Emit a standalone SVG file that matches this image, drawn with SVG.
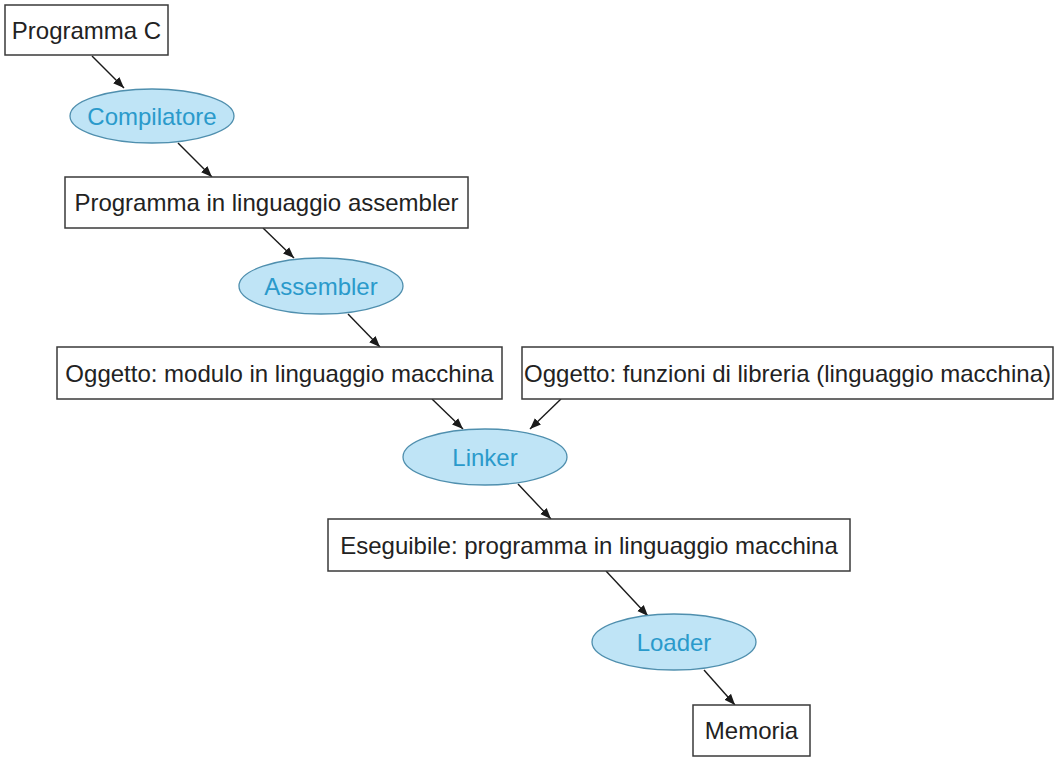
<svg xmlns="http://www.w3.org/2000/svg" width="1058" height="759" viewBox="0 0 1058 759">
<defs>
<marker id="ah" viewBox="0 0 10 10" refX="10" refY="5" markerWidth="11" markerHeight="11" markerUnits="userSpaceOnUse" orient="auto">
<path d="M0,1 L10,5 L0,9 Z" fill="#1a1a1a"/>
</marker>
<style>
.box{fill:#ffffff;stroke:#3a3a3a;stroke-width:1.5}
.ell{fill:#bfe4f6;stroke:#4f8fae;stroke-width:1.3}
.bt{font-family:"Liberation Sans",Arial,sans-serif;font-size:24px;fill:#222222;text-anchor:middle}
.et{font-family:"Liberation Sans",Arial,sans-serif;font-size:24px;fill:#2a9acb;text-anchor:middle}
.c{stroke:#1a1a1a;stroke-width:1.4;fill:none;marker-end:url(#ah)}
</style>
</defs>
<rect width="1058" height="759" fill="#ffffff"/>
<g id="connectors">
<line class="c" x1="92" y1="56" x2="124" y2="88"/>
<line class="c" x1="178" y1="143" x2="212" y2="177"/>
<line class="c" x1="263" y1="228" x2="294" y2="258"/>
<line class="c" x1="348" y1="314" x2="380" y2="347"/>
<line class="c" x1="432" y1="399" x2="463" y2="429"/>
<line class="c" x1="561" y1="399" x2="530" y2="429"/>
<line class="c" x1="518" y1="484" x2="551" y2="519"/>
<line class="c" x1="606" y1="571" x2="648" y2="616"/>
<line class="c" x1="704" y1="670" x2="735" y2="705"/>
</g>
<g id="programma-c">
<rect class="box" x="5" y="5" width="163" height="50"/>
<text class="bt" x="86.5" y="38.5">Programma C</text>
</g>
<g id="compilatore">
<ellipse class="ell" cx="152" cy="116" rx="82" ry="27"/>
<text class="et" x="152" y="124.5">Compilatore</text>
</g>
<g id="programma-assembler">
<rect class="box" x="65" y="177" width="403" height="51"/>
<text class="bt" x="266.5" y="211">Programma in linguaggio assembler</text>
</g>
<g id="assembler">
<ellipse class="ell" cx="321" cy="286" rx="82" ry="28"/>
<text class="et" x="321" y="294.5">Assembler</text>
</g>
<g id="oggetto-modulo">
<rect class="box" x="57" y="347" width="445" height="52"/>
<text class="bt" x="279.5" y="381.5">Oggetto: modulo in linguaggio macchina</text>
</g>
<g id="oggetto-libreria">
<rect class="box" x="522" y="347" width="531" height="52"/>
<text class="bt" x="787.5" y="381.5">Oggetto: funzioni di libreria (linguaggio macchina)</text>
</g>
<g id="linker">
<ellipse class="ell" cx="485" cy="457" rx="82" ry="28"/>
<text class="et" x="485" y="465.5">Linker</text>
</g>
<g id="eseguibile">
<rect class="box" x="328" y="519" width="522" height="52"/>
<text class="bt" x="589" y="553.5">Eseguibile: programma in linguaggio macchina</text>
</g>
<g id="loader">
<ellipse class="ell" cx="674" cy="642" rx="82" ry="28"/>
<text class="et" x="674" y="650.5">Loader</text>
</g>
<g id="memoria">
<rect class="box" x="693" y="705" width="117" height="51"/>
<text class="bt" x="751.5" y="739">Memoria</text>
</g>
</svg>
